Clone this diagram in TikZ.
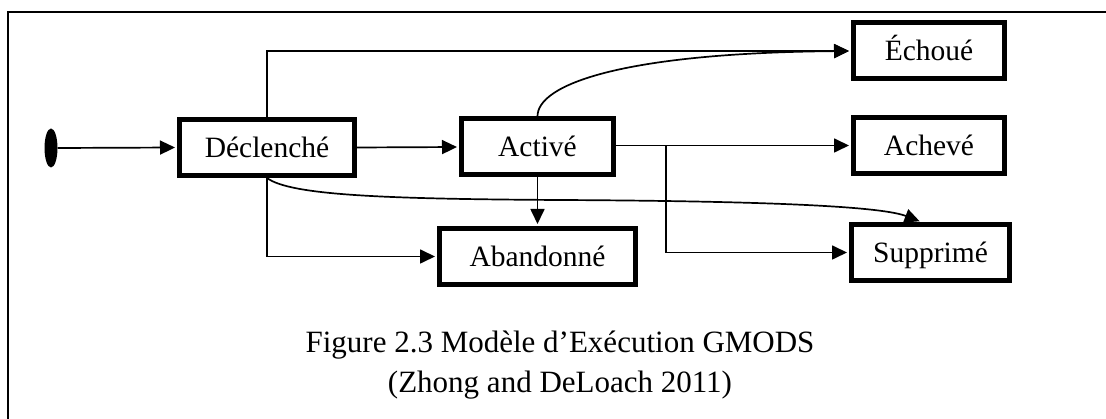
\documentclass[tikz,border=0pt]{standalone}
\usepackage{fontspec}
\setmainfont{Liberation Serif}
\usetikzlibrary{arrows.meta,calc,shapes.geometric}
\tikzset{
  state/.style={draw, line width=5pt, inner sep=0pt, minimum height=56pt,
    text height=19.5pt, text depth=0pt,
    font=\fontsize{29.5}{34}\selectfont},
  link/.style={line width=1.7pt},
  arr/.style={link, -{Triangle[length=15pt,width=14pt]}, shorten >=2pt},
  frameline/.style={line width=2pt},
  caption/.style={font=\fontsize{31}{38}\selectfont, anchor=base, inner sep=0pt}
}
\begin{document}
\begin{tikzpicture}[x=1pt,y=-1pt]
  \useasboundingbox (0,0) rectangle (1106,419);
  % frame
  \coordinate (fTL) at (8,12);
  \coordinate (fTR) at (1106,12);
  \coordinate (fBL) at (8,419);
  \draw[frameline] (fTR) -- (fTL) -- (fBL);

  % start marker and states
  \node[fill=black, ellipse, minimum width=13pt, minimum height=39pt, inner sep=0pt] (start) at (51,148) {};
  \node[state, minimum width=175pt] (decl) at (267,147.5) {Déclenché};
  \node[state, minimum width=152pt] (act)  at (537.5,147) {Activé};
  \node[state, minimum width=151pt] (ech)  at (929,51) {Échoué};
  \node[state, minimum width=151pt] (ach)  at (929,145.5) {Achevé};
  \node[state, minimum width=158pt] (sup)  at (930.5,252.5) {Supprimé};
  \node[state, minimum width=196pt] (aba)  at (537.5,256.5) {Abandonné};

  % transitions
  \draw[arr] (start.east) -- (decl.west);
  \draw[arr] (decl.east) -- (act.west);
  \draw[arr] (decl.north) |- (ech.west);
  \draw[arr] (act.north) .. controls (537,85) and (620,53) .. (ech.west);
  \draw[arr] (act.east |- ach.west) -- (ach.west);
  \coordinate (fork) at (666,145.5);
  \draw[arr] (fork) |- (sup.west);
  \draw[arr] (act.south) -- (aba.north);
  \draw[arr] (decl.south) |- (aba.west);
  \coordinate (supTop) at ($(sup.north)+(-9,0)$);
  \draw[arr] (decl.south) .. controls (290,195) and (380,199) .. (560,200)
                          .. controls (760,201) and (880,206) .. (supTop);

  % caption
  \node[caption] (cap1) at (560,353) {Figure 2.3 Modèle d’Exécution GMODS};
  \node[caption] (cap2) at (560,393) {(Zhong and DeLoach 2011)};
\end{tikzpicture}
\end{document}
